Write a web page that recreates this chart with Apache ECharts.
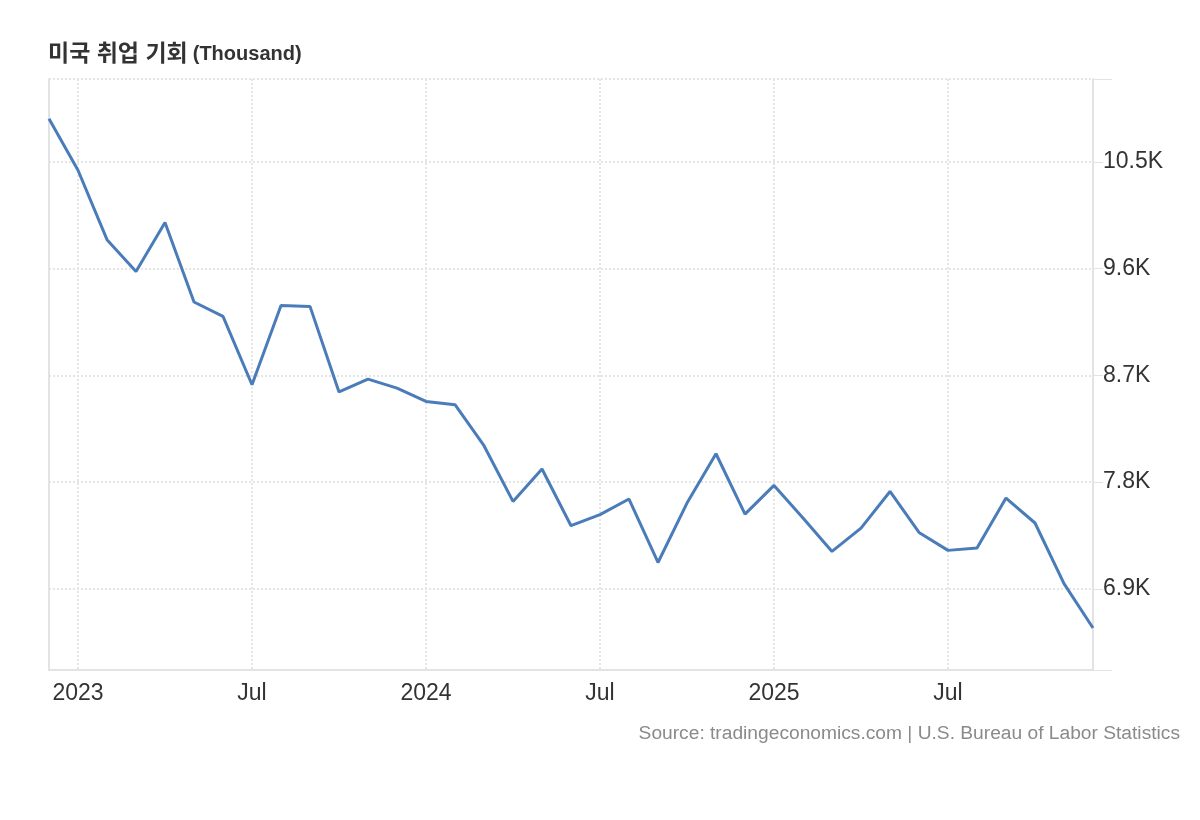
<!DOCTYPE html>
<html>
<head>
<meta charset="utf-8">
<script src="https://cdn.jsdelivr.net/npm/echarts@6/dist/echarts.min.js"></script>
<style>
  html, body { margin: 0; padding: 0; background: #fff; }
  #chart { width: 1200px; height: 820px; }
</style>
</head>
<body>
<div id="chart"></div>
<script>
// ---- data ----
const months = [
  '2022-12',
  '2023-01','2023-02','2023-03','2023-04','2023-05','2023-06','2023-07','2023-08','2023-09','2023-10','2023-11','2023-12',
  '2024-01','2024-02','2024-03','2024-04','2024-05','2024-06','2024-07','2024-08','2024-09','2024-10','2024-11','2024-12',
  '2025-01','2025-02','2025-03','2025-04','2025-05','2025-06','2025-07','2025-08','2025-09','2025-10','2025-11','2025-12'
];
const jobOpenings = [
  10865,
  10430, 9845, 9577, 9990, 9319, 9198, 8621, 9290, 9282, 8560, 8669, 8593,
  8480, 8453, 8107, 7637, 7910, 7432, 7525, 7657, 7122, 7623, 8039, 7530,
  7772, 7497, 7215, 7412, 7721, 7375, 7224, 7244, 7665, 7455, 6943, 6569
];
const yTickValues = [6900, 7800, 8700, 9600, 10500];
const yMin = 6215;
const yMax = 11200;
const titleMain = '미국 취업 기회';
const titleUnit = '(Thousand)';
const sourceText = 'Source: tradingeconomics.com | U.S. Bureau of Labor Statistics';

const FONT = '"Liberation Sans", Arial, Helvetica, "Noto Sans CJK KR", sans-serif';
const isMarked = (i) => {
  const m = months[i].slice(5);
  return m === '01' || m === '07';
};
const gridStyle = { color: '#e5e5e5', width: 2, type: [2, 2] };

const chart = echarts.init(document.getElementById('chart'), null, { renderer: 'canvas' });
chart.setOption({
  animation: false,
  backgroundColor: '#ffffff',
  textStyle: { fontFamily: FONT },
  title: [
    {
      left: 48, top: 43, padding: 0,
      text: '{a|' + titleMain + '} {b|' + titleUnit + '}',
      textStyle: {
        rich: {
          a: { fontSize: 23, fontWeight: 'bold', color: '#333333', fontFamily: FONT },
          b: { fontSize: 20, fontWeight: 'bold', color: '#333333', fontFamily: FONT }
        }
      }
    },
    {
      right: 20, top: 724, padding: 0,
      text: sourceText,
      textStyle: { fontSize: 19.2, fontWeight: 'normal', color: '#8a8a8a', fontFamily: FONT }
    }
  ],
  grid: { left: 49, right: 107, top: 79, bottom: 150, containLabel: false },
  xAxis: {
    type: 'category',
    data: months,
    boundaryGap: false,
    axisLine: { show: true, lineStyle: { color: '#e3e3e3', width: 2 } },
    axisTick: { show: false },
    axisLabel: {
      interval: (i) => isMarked(i),
      formatter: (v) => v.slice(5) === '01' ? v.slice(0, 4) : 'Jul',
      fontSize: 23, color: '#333333', margin: 12, fontFamily: FONT
    },
    splitLine: {
      show: true,
      interval: (i) => isMarked(i),
      lineStyle: gridStyle
    }
  },
  yAxis: [
    {
      type: 'value', position: 'right', min: yMin, max: yMax,
      axisLine: { show: true, lineStyle: { color: '#e3e3e3', width: 2 } },
      axisTick: { show: true, length: 10, customValues: yTickValues.concat([yMax]), lineStyle: { color: '#e3e3e3', width: 1 } },
      axisLabel: {
        customValues: yTickValues,
        formatter: (v) => (v / 1000).toFixed(1) + 'K',
        fontSize: 23, color: '#333333', margin: 10, fontFamily: FONT
      },
      splitLine: { show: true, lineStyle: gridStyle }
    },
    {
      type: 'value', position: 'left', min: yMin, max: yMax,
      axisLine: { show: true, lineStyle: { color: '#e3e3e3', width: 2 } },
      axisTick: { show: false }, axisLabel: { show: false }, splitLine: { show: false }
    },
    {
      type: 'value', position: 'right', min: yMin, max: yMax,
      axisLine: { show: false },
      axisTick: { show: true, length: 19, customValues: [yMin, yMax], lineStyle: { color: '#e3e3e3', width: 1 } },
      axisLabel: { show: false }, splitLine: { show: false }
    }
  ],
  series: [
    {
      type: 'line',
      data: jobOpenings,
      yAxisIndex: 0,
      symbol: 'none',
      smooth: false,
      lineStyle: { color: '#4a7cb9', width: 3 },
      z: 5
    }
  ]
});
</script>
</body>
</html>
